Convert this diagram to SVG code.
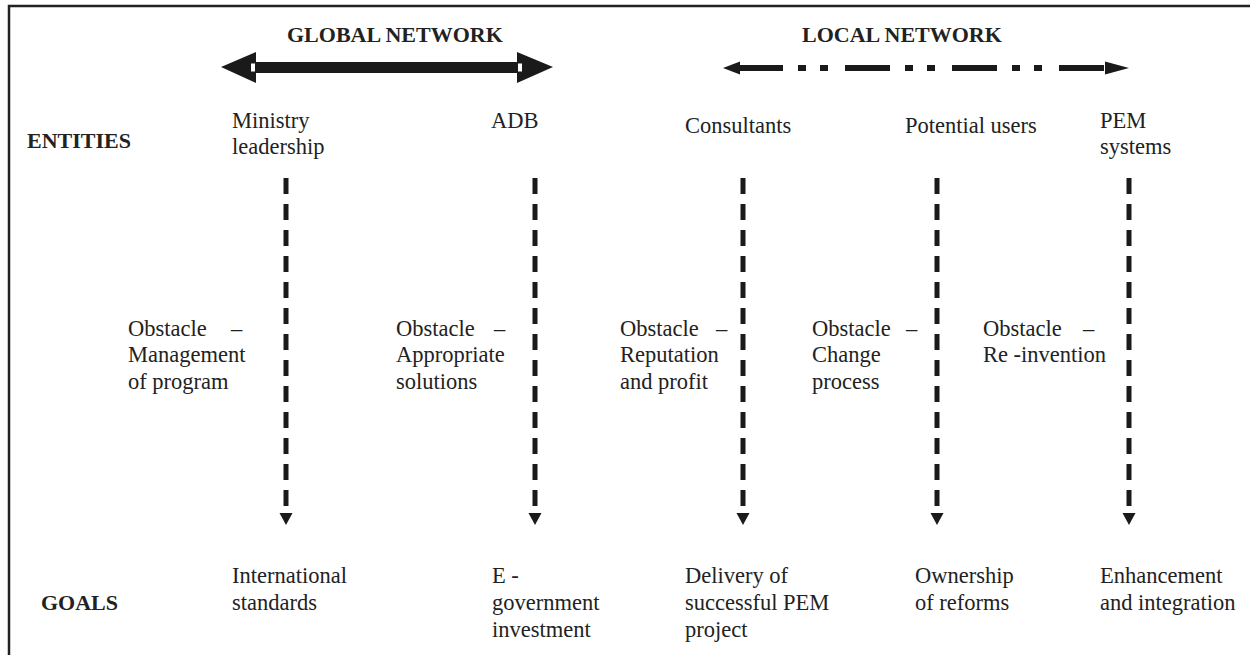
<svg xmlns="http://www.w3.org/2000/svg" width="1250" height="655" viewBox="0 0 1250 655">
<style>
.t{font-family:"Liberation Serif","Times New Roman",serif;font-size:22.5px;fill:#222}
.b{font-family:"Liberation Serif","Times New Roman",serif;font-size:22px;font-weight:bold;fill:#222}
.v{stroke:#1a1a1a;stroke-width:5;stroke-dasharray:16 10;fill:none}
.h{fill:#1a1a1a}
</style>
<defs>
<polygon id="ah" points="-6.5,0 6.5,0 0,12" fill="#1a1a1a"/>
</defs>
<g id="frame" fill="none" stroke="#222" stroke-width="2.5">
<path d="M9,655 V6 H1250"/>
</g>
<g id="headers">
<text class="b" x="287" y="42">GLOBAL NETWORK</text>
<text class="b" x="802" y="42">LOCAL NETWORK</text>
<text class="b" x="27" y="148">ENTITIES</text>
<text class="b" x="41" y="610">GOALS</text>
</g>
<g id="connectors">
<g id="global-arrow">
<polygon class="h" points="221,67 256,52 256,83"/>
<polygon class="h" points="553,67 517,52 517,83"/>
<rect class="h" x="250" y="62" width="272" height="11"/>
<rect x="251" y="63.5" width="4" height="8" fill="#fff"/>
<rect x="518" y="63.5" width="4" height="8" fill="#fff"/>
</g>
<g id="local-arrow">
<polygon class="h" points="723,68 740,61.5 740,74.5"/>
<line x1="738" y1="68" x2="1106" y2="68" stroke="#1a1a1a" stroke-width="6" stroke-dasharray="45 15 8 14 8 17"/>
<polygon class="h" points="1129,68 1105,61.5 1105,74.5"/>
</g>
<line class="v" x1="286" y1="178" x2="286" y2="508"/>
<use href="#ah" x="286" y="513"/>
<line class="v" x1="535" y1="178" x2="535" y2="508"/>
<use href="#ah" x="535" y="513"/>
<line class="v" x1="743" y1="178" x2="743" y2="508"/>
<use href="#ah" x="743" y="513"/>
<line class="v" x1="937" y1="178" x2="937" y2="508"/>
<use href="#ah" x="937" y="513"/>
<line class="v" x1="1129" y1="178" x2="1129" y2="508"/>
<use href="#ah" x="1129" y="513"/>
</g>
<g id="entity-ministry"><text class="t" x="232" y="128">Ministry</text><text class="t" x="232" y="154">leadership</text></g>
<g id="entity-adb"><text class="t" x="491" y="128">ADB</text></g>
<g id="entity-consultants"><text class="t" x="685" y="133">Consultants</text></g>
<g id="entity-users"><text class="t" x="905" y="133">Potential users</text></g>
<g id="entity-pem"><text class="t" x="1100" y="128">PEM</text><text class="t" x="1100" y="154">systems</text></g>
<g id="obstacle-1"><text class="t" x="128" y="336">Obstacle<tspan x="231">–</tspan></text><text class="t" x="128" y="362">Management</text><text class="t" x="128" y="389">of  program</text></g>
<g id="obstacle-2"><text class="t" x="396" y="336">Obstacle<tspan x="494">–</tspan></text><text class="t" x="396" y="362">Appropriate</text><text class="t" x="396" y="389">solutions</text></g>
<g id="obstacle-3"><text class="t" x="620" y="336">Obstacle<tspan x="716">–</tspan></text><text class="t" x="620" y="362">Reputation</text><text class="t" x="620" y="389">and profit</text></g>
<g id="obstacle-4"><text class="t" x="812" y="336">Obstacle<tspan x="906">–</tspan></text><text class="t" x="812" y="362">Change</text><text class="t" x="812" y="389">process</text></g>
<g id="obstacle-5"><text class="t" x="983" y="336">Obstacle<tspan x="1083">–</tspan></text><text class="t" x="983" y="362">Re -invention</text></g>
<g id="goal-1"><text class="t" x="232" y="583">International</text><text class="t" x="232" y="610">standards</text></g>
<g id="goal-2"><text class="t" x="492" y="583">E -</text><text class="t" x="492" y="610">government</text><text class="t" x="492" y="637">investment</text></g>
<g id="goal-3"><text class="t" x="685" y="583">Delivery of</text><text class="t" x="685" y="610">successful PEM</text><text class="t" x="685" y="637">project</text></g>
<g id="goal-4"><text class="t" x="915" y="583">Ownership</text><text class="t" x="915" y="610">of reforms</text></g>
<g id="goal-5"><text class="t" x="1100" y="583">Enhancement</text><text class="t" x="1100" y="610">and integration</text></g>
</svg>
